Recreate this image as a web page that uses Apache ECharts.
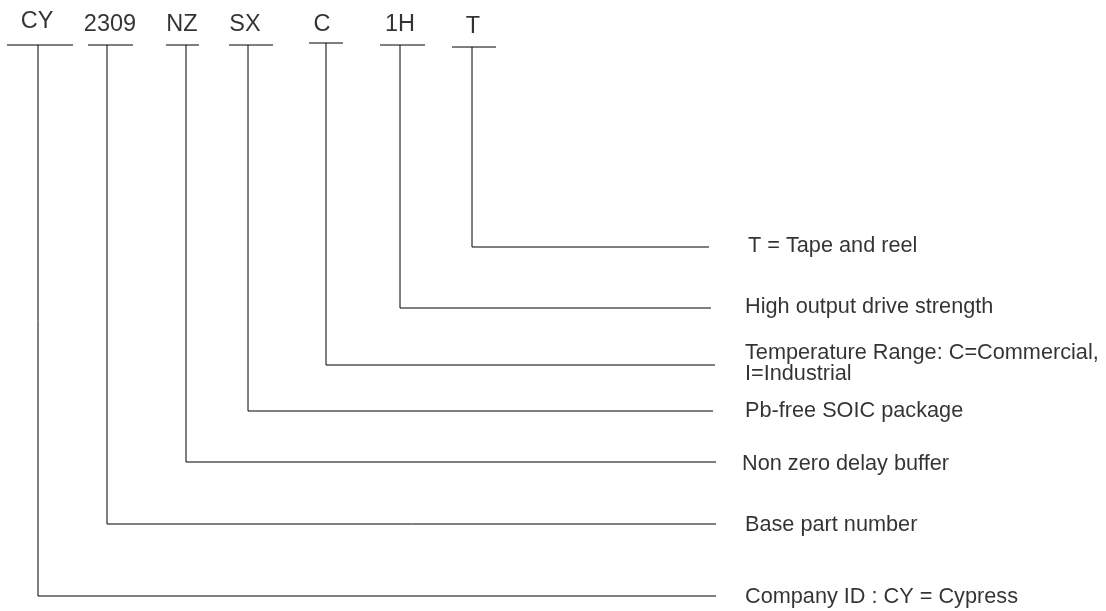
<!DOCTYPE html>
<html>
<head>
<meta charset="utf-8">
<script src="https://cdn.jsdelivr.net/npm/echarts@6/dist/echarts.min.js"></script>
<style>
html,body{margin:0;padding:0;background:#fff;}
#chart{width:1106px;height:611px;}
</style>
</head>
<body>
<div id="chart"></div>
<script>
// Part-number fields (top labels) and their meanings
var codes = ['CY', '2309', 'NZ', 'SX', 'C', '1H', 'T'];
var descriptions = [
  'Company ID : CY = Cypress',
  'Base part number',
  'Non zero delay buffer',
  'Pb-free SOIC package',
  'Temperature Range: C=Commercial,\nI=Industrial',
  'High output drive strength',
  'T = Tape and reel'
];
// Diagram geometry in chart units (x: 0..1106, y: 0..611 from top)
var stemX     = [38, 107, 186, 248, 326, 400, 472];
var codeX     = [37, 110, 182, 245, 322, 400, 473];
var codeY     = [22, 25, 25, 25, 25, 25, 27];
var ulStart   = [7, 88, 166, 229, 309, 380, 452];
var ulEnd     = [73, 133, 199, 273, 343, 425, 496];
var ulY       = [45, 45, 45, 45, 43, 45, 47];
var rowY      = [596, 524, 462, 411, 365, 308, 247];
var lineEndX  = [716, 716, 716, 713, 715, 711, 709];
var descX     = [745, 745, 742, 745, 745, 745, 748];
var descY     = [597, 525, 464, 411, 364, 307, 246];

var chart = echarts.init(document.getElementById('chart'));

var lineData = [];
codes.forEach(function (c, i) {
  lineData.push({ coords: [[ulStart[i], ulY[i]], [ulEnd[i], ulY[i]]] });
  lineData.push({ coords: [[stemX[i], ulY[i]], [stemX[i], rowY[i]], [lineEndX[i], rowY[i]]] });
});

var codeData = codes.map(function (c, i) { return { value: [codeX[i], codeY[i]], name: c }; });
var descData = descriptions.map(function (d, i) { return { value: [descX[i], descY[i]], name: d }; });

chart.setOption({
  backgroundColor: '#ffffff',
  animation: false,
  grid: { left: 0, right: 0, top: 0, bottom: 0 },
  xAxis: { type: 'value', min: 0, max: 1106, show: false },
  yAxis: { type: 'value', min: 0, max: 611, inverse: true, show: false },
  series: [
    {
      type: 'lines',
      coordinateSystem: 'cartesian2d',
      polyline: true,
      silent: true,
      lineStyle: { color: '#000000', width: 1, opacity: 1 },
      data: lineData
    },
    {
      type: 'scatter',
      symbolSize: 0,
      silent: true,
      data: codeData,
      label: {
        show: true,
        position: 'inside',
        formatter: function (p) { return p.name; },
        color: '#000000',
        fontFamily: '"Liberation Sans", Arial, sans-serif',
        fontSize: 23.5,
        align: 'center',
        verticalAlign: 'middle'
      }
    },
    {
      type: 'scatter',
      symbolSize: 0,
      silent: true,
      data: descData,
      label: {
        show: true,
        position: 'inside',
        formatter: function (p) { return p.name; },
        color: '#000000',
        fontFamily: '"Liberation Sans", Arial, sans-serif',
        fontSize: 21.7,
        lineHeight: 21,
        align: 'left',
        verticalAlign: 'middle'
      }
    }
  ]
});
</script>
</body>
</html>
